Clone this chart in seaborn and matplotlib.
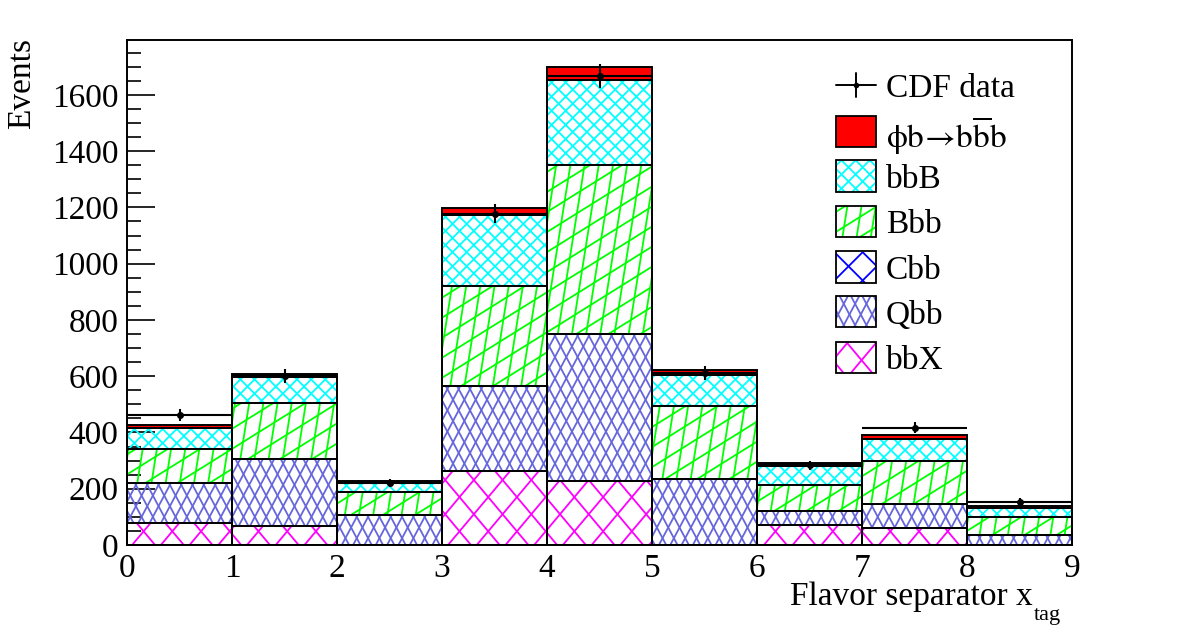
import numpy as np
import pandas as pd
import seaborn as sns
import matplotlib as mpl
mpl.use("Agg")
import matplotlib.pyplot as plt
from matplotlib.collections import LineCollection
from matplotlib.patches import Rectangle
from matplotlib.transforms import IdentityTransform
from matplotlib.ticker import MultipleLocator, AutoMinorLocator

# ---- data ----
bin_edges = np.arange(0, 10)
bin_centers = bin_edges[:-1] + 0.5
bbX = [78, 67, 0, 262, 228, 0, 70, 60, 0]
Qbb = [143, 239, 106, 304, 523, 233, 51, 84, 35]
Cbb = [0, 0, 0, 0, 0, 0, 0, 0, 0]
Bbb = [119, 197, 82, 353, 601, 260, 91, 153, 65]
bbB = [76, 93, 35, 254, 300, 111, 69, 81, 30]
signal = [9, 11, 5, 24, 47, 19, 9, 13, 9]
cdf_data = [462, 600, 221, 1177, 1667, 613, 283, 417, 154]
cdf_err = [21, 24, 15, 34, 41, 25, 17, 20, 12]

comp_names = ['sig', 'bbB', 'Bbb', 'Cbb', 'Qbb', 'bbX']  # top of stack first
comp_vals = [signal, bbB, Bbb, Cbb, Qbb, bbX]
legend_labels = ['CDF data',
                 '$\\mathrm{\\phi b}\\!\\rightarrow\\!\\mathrm{b}\\overline{\\mathrm{b}}\\mathrm{b}$',
                 'bbB', 'Bbb', 'Cbb', 'Qbb', 'bbX']

# ---- style ----
colors = {'sig': '#ff0000', 'bbB': '#00ffff', 'Bbb': '#00ff00',
          'Cbb': '#0000ff', 'Qbb': '#6666dd', 'bbX': '#ff00ff'}
# hatch families: (angle deg, spacing px)
hatches = {'bbB': [(45, 10), (135, 10)],
           'Bbb': [(81, 14), (32, 17)],
           'Cbb': [(45, 20), (135, 20)],
           'Qbb': [(62, 10), (118, 10)],
           'bbX': [(50, 22), (130, 22)]}

sns.set_style("ticks")
plt.rcParams['font.family'] = ['Liberation Serif', 'DejaVu Serif']
plt.rcParams['mathtext.fontset'] = 'stix'
for key in ['text.color', 'axes.labelcolor', 'xtick.color', 'ytick.color', 'axes.edgecolor']:
    plt.rcParams[key] = 'black'

W, H = 1182, 634
fig = plt.figure(figsize=(W / 100, H / 100), dpi=100)
ax = fig.add_axes([127 / W, 1 - 545 / H, 945 / W, 505 / H])

df = pd.DataFrame({'x': np.tile(bin_centers, len(comp_names)),
                   'w': np.concatenate(comp_vals),
                   'comp': np.repeat(comp_names, len(bin_centers))})
sns.histplot(df, x='x', weights='w', hue='comp', hue_order=comp_names,
             multiple='stack', binwidth=1, binrange=(0, 9), palette=colors, alpha=1,
             legend=False, ax=ax, element='bars')

ax.set_xlim(0, 9)
ax.set_ylim(0, 1795)


def add_hatch(ax, patch, name, z=1.5):
    if name not in hatches:
        return
    bb = patch.get_window_extent()
    if bb.width < 1 or bb.height < 1:
        return
    cen = np.array([(bb.x0 + bb.x1) / 2, (bb.y0 + bb.y1) / 2])
    diag = np.hypot(bb.width, bb.height)
    corners = np.array([[bb.x0, bb.y0], [bb.x1, bb.y0], [bb.x0, bb.y1], [bb.x1, bb.y1]])
    segs = []
    for a, step in hatches[name]:
        t = np.radians(a)
        d = np.array([np.cos(t), np.sin(t)])
        n = np.array([-np.sin(t), np.cos(t)])
        proj = corners @ n
        for c in np.arange(np.floor(proj.min() / step), np.ceil(proj.max() / step) + 1) * step:
            p0 = cen + (c - n @ cen) * n
            segs.append([p0 - diag * d, p0 + diag * d])
    lc = LineCollection(segs, colors=colors[name], linewidths=1.3,
                        transform=IdentityTransform(), zorder=z)
    ax.add_collection(lc, autolim=False)
    lc.set_clip_path(patch)


# restyle bars ROOT-like: outlined, hatched
for p in list(ax.patches):
    fc = np.array(p.get_facecolor())
    name = None
    for k, c in colors.items():
        if np.allclose(fc, mpl.colors.to_rgba(c), atol=0.01):
            name = k
    if name is None:
        continue
    p.set_facecolor(colors['sig'] if name == 'sig' else 'none')
    p.set_edgecolor('black')
    p.set_linewidth(1.4)
    p.set_zorder(2)
    add_hatch(ax, p, name)

ax.errorbar(bin_centers, cdf_data, xerr=0.5, yerr=cdf_err, fmt='o', color='black',
            ms=4, elinewidth=1.5, capsize=0, zorder=5)

# ---- legend drawn by hand ----
row_y = [85, 131, 176, 221, 267, 312, 357]
bx0, bx1, bh = 836, 876, 31
for lab, yp, name in zip(legend_labels, row_y, [None] + comp_names):
    ya = (545 - yp) / 505
    x0a = (bx0 - 127) / 945
    wa = (bx1 - bx0) / 945
    if name is None:
        ax.plot([x0a, x0a + wa], [ya, ya], color='black', lw=1.4, transform=ax.transAxes, zorder=5)
        ax.plot([x0a + wa / 2] * 2, [ya - 12 / 505, ya + 12 / 505], color='black', lw=1.4,
                transform=ax.transAxes, zorder=5)
        ax.plot([x0a + wa / 2], [ya], 'o', color='black', ms=3, transform=ax.transAxes, zorder=5)
    else:
        r = Rectangle((x0a, ya - bh / 2 / 505), wa, bh / 505, transform=ax.transAxes,
                      facecolor=colors['sig'] if name == 'sig' else 'none',
                      edgecolor='black', lw=1.3, zorder=2)
        ax.add_patch(r)
        add_hatch(ax, r, name)
    ax.text((886 - 127) / 945, ya, lab, transform=ax.transAxes, fontsize=24,
            ha='left', va='center_baseline')

# ---- axes ----
ax.yaxis.set_major_locator(MultipleLocator(200))
ax.yaxis.set_minor_locator(AutoMinorLocator(4))
ax.xaxis.set_major_locator(MultipleLocator(1))
ax.tick_params(axis='y', which='major', direction='in', length=20, width=1.2, pad=6, labelsize=24)
ax.tick_params(axis='y', which='minor', direction='in', length=10, width=1.2)
ax.tick_params(axis='x', which='major', direction='in', length=10, width=1.2, pad=6, labelsize=24)
for s in ax.spines.values():
    s.set_linewidth(1.4)
    s.set_visible(True)
ax.set_xlabel('')
ax.set_ylabel('')

fig.text(22 / W, 1 - 38 / H, 'Events', rotation=90, ha='center', va='top', fontsize=24)
fig.text(1033 / W, 1 - 605 / H, 'Flavor separator x', ha='right', va='baseline', fontsize=24)
fig.text(1034 / W, 1 - 620 / H, 'tag', ha='left', va='baseline', fontsize=16)

plt.savefig('out.png', dpi=100)
